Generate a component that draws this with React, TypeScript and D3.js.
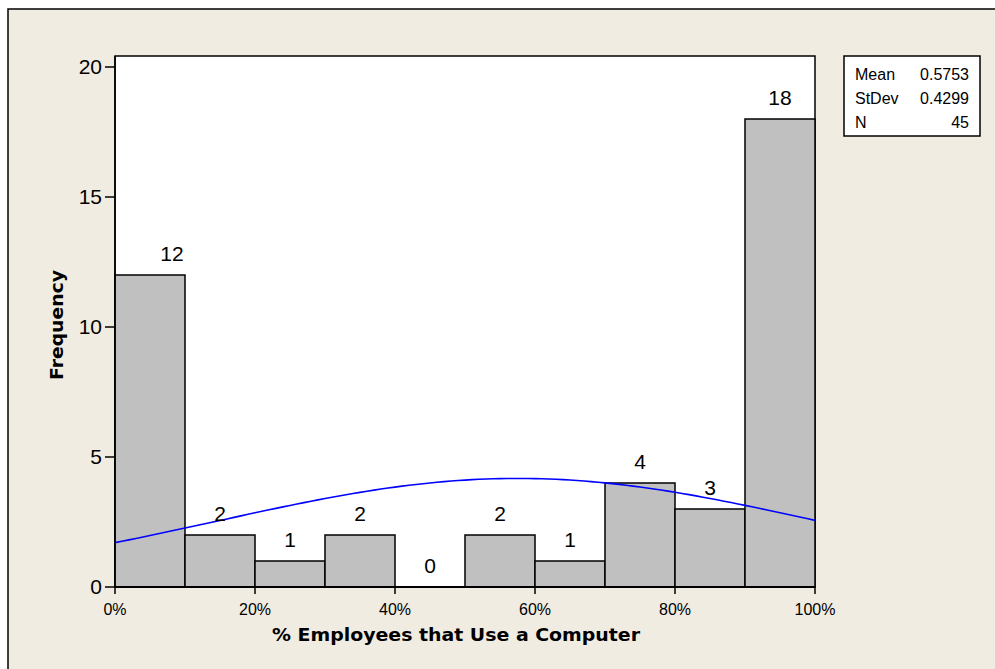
import React from "react";
import * as d3 from "d3";

const binStarts = [0, 0.1, 0.2, 0.3, 0.4, 0.5, 0.6, 0.7, 0.8, 0.9];
const counts = [12, 2, 1, 2, 0, 2, 1, 4, 3, 18];
const xTicks = [0, 0.2, 0.4, 0.6, 0.8, 1.0];
const yTicks = [0, 5, 10, 15, 20];
const statLabels = ["Mean", "StDev", "N"];
const statValues = ["0.5753", "0.4299", "45"];
const mean = 0.5753;
const stdev = 0.4299;
const nObs = 45;
const binWidth = 0.1;

const W = 995;
const H = 669;
const left = 115;
const right = 815;
const top = 56;
const bottom = 587;

export default function App() {
  const x = d3.scaleLinear().domain([0, 1]).range([left, right]);
  const y = d3.scaleLinear().domain([0, 20]).range([bottom, bottom - 520]);

  const curvePts: [number, number][] = d3.range(0, 1.0001, 0.01).map((v) => {
    const z = (v - mean) / stdev;
    const dens = (nObs * binWidth) / (stdev * Math.sqrt(2 * Math.PI)) * Math.exp(-0.5 * z * z);
    return [v, dens];
  });
  const line = d3
    .line<[number, number]>()
    .x((d) => x(d[0]))
    .y((d) => y(d[1]));

  const font = "'Liberation Sans', Arial, sans-serif";

  return (
    <div style={{ position: "absolute", left: 0, top: 0 }}>
      <svg width={W} height={H} style={{ display: "block" }}>
        <rect x={0} y={0} width={W} height={H} fill="#ffffff" />
        <rect x={8} y={9} width={W + 10} height={H + 10} fill="#F0ECE2" stroke="#000" strokeWidth={1.5} />
        <rect x={left} y={top} width={right - left} height={bottom - top} fill="#ffffff" stroke="#000" strokeWidth={1.5} />
        {/* bars */}
        {binStarts.map((b, i) => (
          <rect
            key={"bar" + i}
            x={x(b)}
            y={y(counts[i])}
            width={x(b + binWidth) - x(b)}
            height={y(0) - y(counts[i])}
            fill="#C0C0C0"
            stroke="#000"
            strokeWidth={1.5}
          />
        ))}
        {/* normal curve */}
        <path d={line(curvePts) || ""} fill="none" stroke="#0000FF" strokeWidth={1.6} />
        {/* count labels */}
        {binStarts.map((b, i) => (
          <text
            key={"lab" + i}
            x={x(b + binWidth / 2) + (i === 0 ? 22 : 0)}
            y={y(counts[i]) - 14}
            textAnchor="middle"
            fontFamily={font}
            fontSize={21}
            fill="#000"
          >
            {counts[i]}
          </text>
        ))}
        {/* axes lines */}
        <line x1={left} x2={right} y1={bottom} y2={bottom} stroke="#000" strokeWidth={2} />
        <line x1={left} x2={left} y1={top} y2={bottom} stroke="#000" strokeWidth={1.5} />
        {/* y ticks */}
        {yTicks.map((t) => (
          <g key={"yt" + t}>
            <line x1={left - 10} x2={left} y1={y(t)} y2={y(t)} stroke="#000" strokeWidth={1.5} />
            <text
              x={left - 13}
              y={y(t)}
              dy="0.35em"
              textAnchor="end"
              fontFamily={font}
              fontSize={21}
              fill="#000"
            >
              {t}
            </text>
          </g>
        ))}
        {/* x ticks */}
        {xTicks.map((t) => (
          <g key={"xt" + t}>
            <line x1={x(t)} x2={x(t)} y1={bottom} y2={bottom + 7} stroke="#000" strokeWidth={1.5} />
            <text
              x={x(t)}
              y={615}
              textAnchor="middle"
              fontFamily={font}
              fontSize={16}
              fill="#000"
            >
              {d3.format(".0%")(t)}
            </text>
          </g>
        ))}
        {/* axis titles */}
        <text
          x={456}
          y={641}
          textAnchor="middle"
          fontFamily="'DejaVu Sans', Verdana, sans-serif"
          fontWeight="bold"
          fontSize={18}
          textLength={368}
          lengthAdjust="spacingAndGlyphs"
          fill="#000"
        >
          % Employees that Use a Computer
        </text>
        <text
          transform={`translate(63,325) rotate(-90)`}
          textAnchor="middle"
          fontFamily="'DejaVu Sans', Verdana, sans-serif"
          fontWeight="bold"
          fontSize={18}
          textLength={110}
          lengthAdjust="spacingAndGlyphs"
          fill="#000"
        >
          Frequency
        </text>
        {/* stats box */}
        <rect x={844} y={56} width={136} height={80} fill="#ffffff" stroke="#000" strokeWidth={1.5} />
        {statLabels.map((s, i) => (
          <g key={"st" + i}>
            <text x={855} y={80 + i * 24} fontFamily={font} fontSize={16} fill="#000">
              {s}
            </text>
            <text x={969} y={80 + i * 24} textAnchor="end" fontFamily={font} fontSize={16} fill="#000">
              {statValues[i]}
            </text>
          </g>
        ))}
      </svg>
    </div>
  );
}
